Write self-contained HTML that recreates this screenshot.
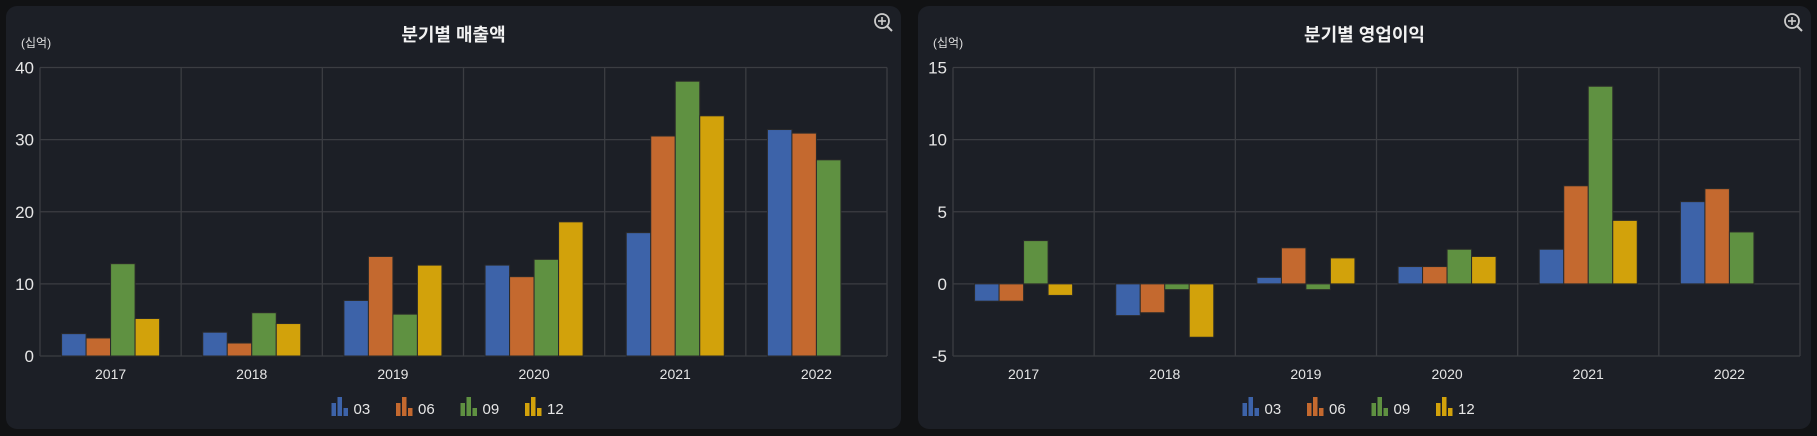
<!DOCTYPE html>
<html><head><meta charset="utf-8">
<style>
html,body{margin:0;padding:0;background:#111214;width:1817px;height:436px;overflow:hidden;}
svg{display:block;font-family:"Liberation Sans","Noto Sans CJK KR",sans-serif;}
</style></head>
<body>
<svg id="root" width="1817" height="436"></svg>
<script>
const categories=["2017","2018","2019","2020","2021","2022"];
const seriesNames=["03","06","09","12"];
const sales03=[3.1,3.3,7.7,12.6,17.1,31.4];
const sales06=[2.5,1.8,13.8,11.0,30.5,30.9];
const sales09=[12.8,6.0,5.8,13.4,38.1,27.2];
const sales12=[5.2,4.5,12.6,18.6,33.3,null];
const op03=[-1.2,-2.2,0.45,1.2,2.4,5.7];
const op06=[-1.2,-2.0,2.5,1.2,6.8,6.6];
const op09=[3.0,-0.4,-0.4,2.4,13.7,3.6];
const op12=[-0.8,-3.7,1.8,1.9,4.4,null];
const salesTicks=[0,10,20,30,40];
const opTicks=[-5,0,5,10,15];
const colors=["#3d63a9","#c4692f","#5f9141","#d2a20b"];
const NS="http://www.w3.org/2000/svg";
const root=document.getElementById('root');
function el(tag,attrs,parent){const e=document.createElementNS(NS,tag);for(const k in attrs)e.setAttribute(k,attrs[k]);parent.appendChild(e);return e;}
function chart(name,ox,pw,title,series,ticks,plotL,plotR){
  const g=el('g',{},root);
  
  
  const bg=el('rect',{x:ox,y:6,width:pw,height:423,rx:11,fill:'#1c1f26'},g);
  
  
  const t=el('text',{x:ox+pw/2,y:41,'text-anchor':'middle',fill:'#f2f2f2','font-size':18,'font-weight':'bold'},g);
  t.textContent=title;
  
  
  const u=el('text',{x:ox+15,y:47,fill:'#e0e0e0','font-size':12},g);
  u.textContent='(십억)';
  
  
  const zi=el('g',{transform:`translate(${ox+pw-19},21)`},g);
  
  
  el('circle',{cx:0,cy:0,r:7,fill:'none',stroke:'#ccc','stroke-width':1.8},zi);
  el('line',{x1:5,y1:5,x2:10,y2:10,stroke:'#ccc','stroke-width':2},zi);
  el('line',{x1:-4,y1:0,x2:4,y2:0,stroke:'#ccc','stroke-width':1.6},zi);
  el('line',{x1:0,y1:-4,x2:0,y2:4,stroke:'#ccc','stroke-width':1.6},zi);
  const top=67.5,bot=356;
  const mn=ticks[0],mx=ticks[ticks.length-1];
  const y=v=>bot-(v-mn)/(mx-mn)*(bot-top);
  const cw=(plotR-plotL)/categories.length;
  const x=i=>plotL+i*cw;
  ticks.forEach(tv=>{
    const l=el('line',{x1:plotL,x2:plotR,y1:y(tv),y2:y(tv),stroke:'#3b3d42','stroke-width':1.3},g);
    
    
    const tt=el('text',{x:plotL-6,y:y(tv)+6,'text-anchor':'end',fill:'#e6e6e6','font-size':17},g);
    tt.textContent=tv;
    
    
  });
  for(let i=0;i<=categories.length;i++){
    const l=el('line',{x1:x(i),x2:x(i),y1:top,y2:bot,stroke:'#3b3d42','stroke-width':1.3},g);
    
    
  }
  const bw=24.5,pad=(cw-4*bw)/2;
  categories.forEach((c,i)=>{
    const lt=el('text',{x:x(i)+cw/2,y:379,'text-anchor':'middle',fill:'#e6e6e6','font-size':14},g);
    lt.textContent=c;
    
    
    series.forEach((s,j)=>{
      const v=s[i]; if(v===null||v===undefined) return;
      const y0=y(0),y1=y(v);
      const r=el('rect',{x:x(i)+pad+j*bw,y:Math.min(y0,y1),width:bw,height:Math.abs(y1-y0),fill:colors[j],stroke:'#2a2a2a','stroke-width':1},g);
      
      
    });
  });
  const lx0=ox+pw/2-122;
  seriesNames.forEach((n,j)=>{
    const lg=el('g',{transform:`translate(${lx0+j*64.5},397)`},g);
    
    
    el('rect',{x:0,y:6,width:4.5,height:13,fill:colors[j]},lg);
    el('rect',{x:6,y:0,width:4.5,height:19,fill:colors[j]},lg);
    el('rect',{x:12,y:11,width:4.5,height:8,fill:colors[j]},lg);
    const lt=el('text',{x:22,y:17,fill:'#e6e6e6','font-size':15},lg);
    lt.textContent=n;
  });
}
chart('sales-chart',6,895,'분기별 매출액',[sales03,sales06,sales09,sales12],salesTicks,40,887);
chart('operating-profit-chart',918,893,'분기별 영업이익',[op03,op06,op09,op12],opTicks,953,1800);
</script>
</body></html>
